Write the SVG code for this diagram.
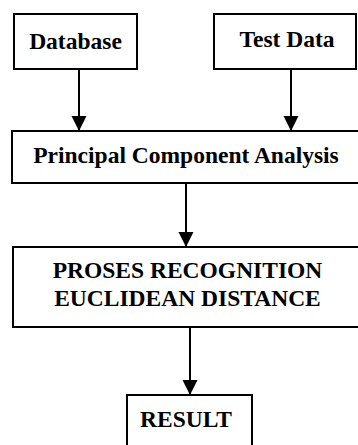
<svg xmlns="http://www.w3.org/2000/svg" width="358" height="445" viewBox="0 0 358 445">
<style>
  .box { fill: #fff; stroke: #000; stroke-width: 2; }
  .lbl { font-family: "Liberation Serif", "Times New Roman", serif; font-weight: bold; font-size: 23.5px; fill: #000; text-anchor: middle; }
  .conn { stroke: #000; stroke-width: 2; fill: none; marker-end: url(#arrow); }
</style>
<defs>
  <marker id="arrow" markerUnits="userSpaceOnUse" markerWidth="16" markerHeight="16" refX="15" refY="7.5" orient="auto" viewBox="0 0 16 16">
    <path d="M0,0 L15,7.5 L0,15 z" fill="#000"/>
  </marker>
</defs>
<rect width="358" height="445" fill="#fff"/>
<g id="connectors">
  <line class="conn" x1="79" y1="69" x2="79" y2="131"/>
  <line class="conn" x1="291" y1="69" x2="291" y2="131"/>
  <line class="conn" x1="186" y1="183" x2="186" y2="247"/>
  <line class="conn" x1="190" y1="327" x2="190" y2="395"/>
</g>
<g id="database">
  <rect class="box" x="14" y="14" width="123" height="55"/>
  <text class="lbl" x="75.5" y="49">Database</text>
</g>
<g id="testdata">
  <rect class="box" x="214" y="14" width="142" height="55"/>
  <text class="lbl" x="287" y="47">Test Data</text>
</g>
<g id="pca">
  <rect class="box" x="12" y="131" width="360" height="52"/>
  <text class="lbl" x="186" y="163">Principal Component Analysis</text>
</g>
<g id="proses">
  <rect class="box" x="13" y="247" width="360" height="80"/>
  <text class="lbl" x="187.5" y="278">PROSES RECOGNITION</text>
  <text class="lbl" x="187.5" y="306">EUCLIDEAN DISTANCE</text>
</g>
<g id="result">
  <rect class="box" x="127" y="395" width="125" height="70"/>
  <text class="lbl" x="186" y="427">RESULT</text>
</g>
</svg>
